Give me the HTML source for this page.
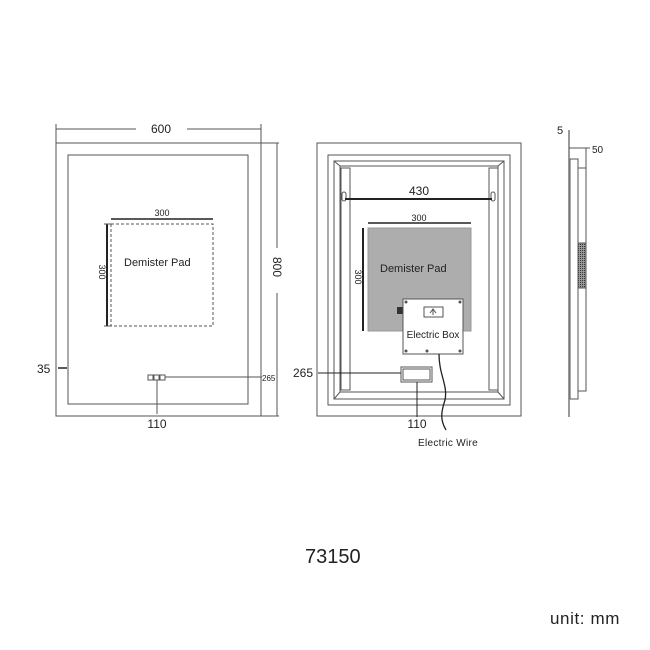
<!DOCTYPE html>
<html><head><meta charset="utf-8"><style>
html,body{margin:0;padding:0;background:#fff;}
svg{display:block}
text{font-family:"Liberation Sans",sans-serif;fill:#222}
</style></head><body>
<svg width="650" height="650" viewBox="0 0 650 650" xmlns="http://www.w3.org/2000/svg">
<defs>
<pattern id="dots" width="2" height="2" patternUnits="userSpaceOnUse"><rect width="2" height="2" fill="#999"/><rect width="1" height="1" fill="#333"/></pattern>
</defs>
<g fill="none" stroke="#555" stroke-width="1">
<rect x="56" y="143" width="205" height="273"/>
<rect x="68" y="155" width="180" height="249"/>
<line x1="56" y1="129" x2="136" y2="129"/>
<line x1="187" y1="129" x2="261" y2="129"/>
<line x1="56" y1="124" x2="56" y2="143"/>
<line x1="261" y1="124" x2="261" y2="143"/>
<line x1="277" y1="143" x2="277" y2="248"/>
<line x1="277" y1="293" x2="277" y2="416"/>
<line x1="261" y1="143" x2="279" y2="143"/>
<line x1="261" y1="416" x2="279" y2="416"/>
<rect x="111" y="224" width="102" height="102" stroke-dasharray="3,2"/>
<line x1="111" y1="219" x2="213" y2="219" stroke="#222" stroke-width="1.5"/>
<line x1="107" y1="224" x2="107" y2="326" stroke="#222" stroke-width="2"/>
<line x1="104" y1="224" x2="111" y2="224"/>
<line x1="104" y1="326" x2="111" y2="326"/>
<line x1="58" y1="368" x2="67" y2="368" stroke="#222" stroke-width="1.5"/>
<rect x="148" y="375" width="5" height="5"/>
<rect x="154" y="375" width="5" height="5"/>
<rect x="160" y="375" width="5" height="5"/>
<line x1="165" y1="377" x2="262" y2="377"/>
<line x1="157" y1="380" x2="157" y2="414"/>
<rect x="317" y="143" width="204" height="273"/>
<rect x="328" y="155" width="182" height="250"/>
<rect x="334" y="161" width="170" height="238"/>
<rect x="340" y="166" width="158" height="226"/>
<line x1="334" y1="161" x2="340" y2="166"/><line x1="504" y1="161" x2="498" y2="166"/>
<line x1="334" y1="399" x2="340" y2="392"/><line x1="504" y1="399" x2="498" y2="392"/>
<rect x="341" y="168" width="9" height="222"/>
<rect x="489" y="168" width="9" height="222"/>
<rect x="342" y="192" width="4" height="9" rx="2"/>
<rect x="491" y="192" width="4" height="9" rx="2"/>
<line x1="345" y1="199" x2="492" y2="199" stroke="#222" stroke-width="2"/>
<rect x="368" y="228" width="103" height="103" fill="#adadad" stroke="#999"/>
<line x1="368" y1="223" x2="471" y2="223" stroke="#222" stroke-width="1.5"/>
<line x1="363" y1="228" x2="363" y2="331" stroke="#222" stroke-width="2"/>
<rect x="397" y="307" width="6" height="7" fill="#333" stroke="none"/>
<rect x="403" y="299" width="60" height="55" fill="#fff" stroke="#555"/>
<rect x="424" y="307" width="19" height="10"/>
<path d="M430 313 L433 309 L436 313 M433 309 V315"/>
<circle cx="406" cy="302" r="1" fill="#555"/><circle cx="460" cy="302" r="1" fill="#555"/>
<circle cx="406" cy="351" r="1" fill="#555"/><circle cx="460" cy="351" r="1" fill="#555"/><circle cx="427" cy="351" r="1" fill="#555"/>
<rect x="401" y="367" width="31" height="15"/>
<rect x="403" y="369" width="27" height="11"/>
<line x1="318" y1="373" x2="401" y2="373" stroke="#222"/>
<line x1="417" y1="382" x2="417" y2="417" stroke="#222"/>
<path d="M439 354 C439 375 448 385 445 400 C441 412 440 420 446 430" stroke="#222" stroke-width="1.3"/>
<line x1="569" y1="130" x2="569" y2="417" stroke="#999" stroke-width="2"/>
<rect x="570" y="159" width="8" height="240"/>
<rect x="578" y="168" width="8" height="223"/>
<rect x="578" y="243" width="8" height="45" fill="url(#dots)" stroke="#555"/>
<line x1="569" y1="148" x2="590" y2="148"/>
<line x1="586" y1="148" x2="586" y2="168"/>
</g>
<g font-size="12">
<text x="161" y="133" text-anchor="middle">600</text>
<text x="0" y="0" transform="translate(273,267) rotate(90)" text-anchor="middle">800</text>
<text x="162" y="216" text-anchor="middle" font-size="9">300</text>
<text x="0" y="0" transform="translate(99,272) rotate(90)" text-anchor="middle" font-size="9">300</text>
<text x="124" y="266" font-size="11">Demister  Pad</text>
<text x="37" y="373">35</text>
<text x="262" y="381" font-size="8">265</text>
<text x="157" y="428" text-anchor="middle">110</text>
<text x="419" y="195" text-anchor="middle">430</text>
<text x="419" y="221" text-anchor="middle" font-size="9">300</text>
<text x="0" y="0" transform="translate(355,277) rotate(90)" text-anchor="middle" font-size="9">300</text>
<text x="380" y="272" font-size="11">Demister  Pad</text>
<text x="433" y="338" text-anchor="middle" font-size="10">Electric  Box</text>
<text x="293" y="377">265</text>
<text x="417" y="428" text-anchor="middle">110</text>
<text x="418" y="446" font-size="10" letter-spacing="0.3">Electric  Wire</text>
<text x="557" y="134" font-size="11">5</text>
<text x="592" y="153" font-size="10">50</text>
<text x="305" y="563" font-size="20">73150</text>
<text x="550" y="624" font-size="17" letter-spacing="0.6">unit: mm</text>
</g>
</svg>
</body></html>
